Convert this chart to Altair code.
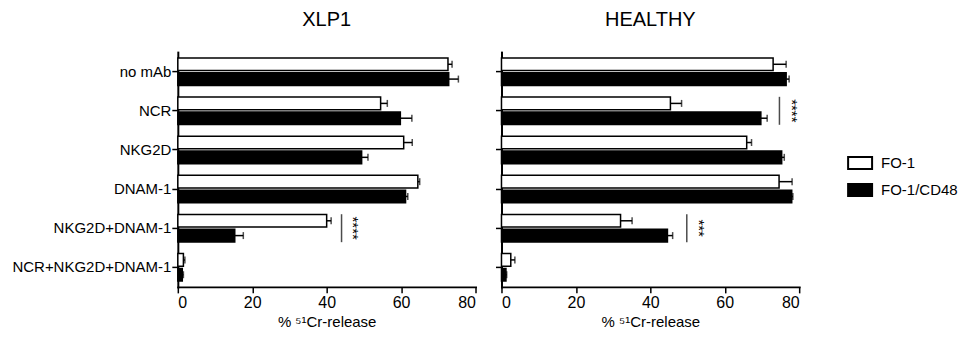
import altair as alt
import pandas as pd

categories = ["no mAb", "NCR", "NKG2D", "DNAM-1", "NKG2D+DNAM-1", "NCR+NKG2D+DNAM-1"]
series = ["FO-1", "FO-1/CD48"]

xlp1_fo1 = [72.6, 54.5, 60.7, 64.5, 40.0, 1.5]
xlp1_fo1_err = [1.1, 1.8, 2.3, 0.5, 1.2, 0.4]
xlp1_cd48 = [72.8, 59.8, 49.4, 61.2, 15.3, 1.2]
xlp1_cd48_err = [2.6, 3.1, 1.7, 0.6, 2.3, 0.3]

healthy_fo1 = [73.0, 45.4, 65.9, 74.6, 32.0, 2.5]
healthy_fo1_err = [3.5, 3.0, 1.3, 3.5, 3.1, 1.1]
healthy_cd48 = [76.5, 69.7, 75.3, 78.0, 44.6, 1.2]
healthy_cd48_err = [0.8, 1.7, 0.7, 0.3, 1.4, 0.2]

# significance markers: (category, bracket position, star position, label)
xlp1_sig = [("NKG2D+DNAM-1", 44.0, 47.0, "****")]
healthy_sig = [("NCR", 74.7, 78.0, "****"), ("NKG2D+DNAM-1", 49.8, 53.0, "***")]

FONT = "Liberation Sans"


def make_df(fo1, fo1_err, cd48, cd48_err):
    rows = []
    for i, c in enumerate(categories):
        rows.append({"cat": c, "grp": series[0], "v": fo1[i], "hi": fo1[i] + fo1_err[i]})
        rows.append({"cat": c, "grp": series[1], "v": cd48[i], "hi": cd48[i] + cd48_err[i]})
    return pd.DataFrame(rows)


def panel(title, df, sig, show_labels):
    y = alt.Y(
        "cat:N",
        sort=categories,
        scale=alt.Scale(paddingInner=0.3, paddingOuter=0.15),
        axis=alt.Axis(
            title=None,
            labels=show_labels,
            labelFontSize=15,
            labelFont=FONT,
            labelColor="black",
            labelLimit=400,
            labelPadding=1,
            tickSize=6,
            tickWidth=1.5,
            tickColor="black",
            domainColor="black",
            domainWidth=2,
            minExtent=170 if show_labels else 6,
            maxExtent=170 if show_labels else 6,
        ),
    )
    yoff = alt.YOffset("grp:N", sort=series, scale=alt.Scale(paddingInner=0.15))
    x = alt.X(
        "v:Q",
        scale=alt.Scale(domain=[0, 80], nice=False),
        axis=alt.Axis(
            title="% ⁵¹Cr-release",
            values=[0, 20, 40, 60, 80],
            labelFontSize=16,
            labelFont=FONT,
            labelColor="black",
            labelPadding=2,
            titleFont=FONT,
            titleFontSize=15,
            titleFontWeight="normal",
            titleColor="black",
            titlePadding=4,
            tickSize=6,
            tickWidth=1.5,
            tickColor="black",
            domainColor="black",
            domainWidth=2,
            grid=False,
        ),
    )
    color = alt.Fill(
        "grp:N",
        sort=series,
        scale=alt.Scale(domain=series, range=["white", "black"]),
        legend=alt.Legend(
            title=None,
            orient="none",
            legendX=670,
            legendY=98,
            padding=0,
            symbolType="M-1,-0.5H1V0.5H-1Z",
            symbolSize=576,
            symbolStrokeColor="black",
            symbolStrokeWidth=2,
            labelFont=FONT,
            labelFontSize=15,
            labelColor="black",
            labelOffset=8,
            labelLimit=100,
            rowPadding=4,
        ),
    )
    base = alt.Chart(df)
    bars = base.mark_bar(stroke="black", strokeWidth=1.5).encode(x=x, y=y, yOffset=yoff, fill=color)
    err = base.mark_rule(color="black", strokeWidth=1.5).encode(
        x="v:Q", x2="hi:Q", y=y, yOffset=yoff
    )
    cap = base.mark_tick(orient="vertical", color="black", size=7, thickness=1.5).encode(
        x="hi:Q", y=y, yOffset=yoff
    )
    sdf = pd.DataFrame(sig, columns=["cat", "line", "star", "lab"])
    sbase = alt.Chart(sdf)
    sline = sbase.mark_tick(orient="vertical", color="black", size=28, thickness=1.5).encode(
        x="line:Q", y=y
    )
    stext = sbase.mark_text(angle=90, fontSize=15, font=FONT, fill="black", baseline="middle", align="center").encode(
        x="star:Q", y=y, text="lab:N"
    )
    return alt.layer(bars, err, cap, sline, stext).properties(
        width=298,
        height=235,
        title=alt.TitleParams(title, fontSize=20, font=FONT, fontWeight="normal", color="black", offset=22),
    )


left = panel("XLP1", make_df(xlp1_fo1, xlp1_fo1_err, xlp1_cd48, xlp1_cd48_err), xlp1_sig, True)
right = panel("HEALTHY", make_df(healthy_fo1, healthy_fo1_err, healthy_cd48, healthy_cd48_err), healthy_sig, False)

chart = (
    alt.hconcat(left, right, spacing=26, bounds="flush")
    .properties(padding={"left": 0, "top": 2, "right": 0, "bottom": 0})
    .configure_view(stroke=None)
    .configure_axis(domainCap="square")
)

chart.save("out.html", embed_options={"renderer": "svg", "actions": False})
